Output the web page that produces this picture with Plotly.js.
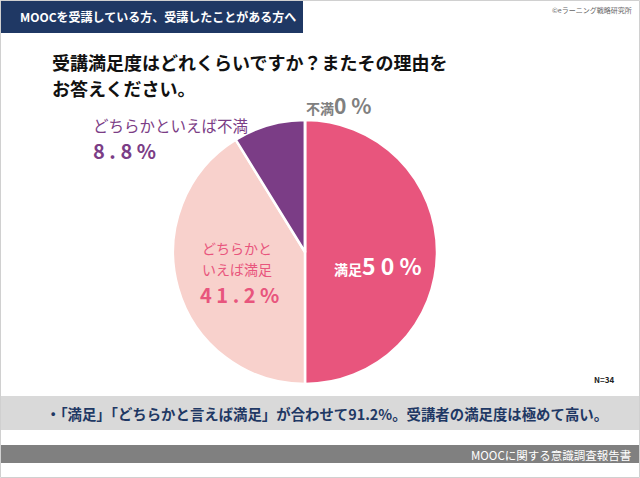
<!DOCTYPE html>
<html>
<head>
<meta charset="utf-8">
<script src="https://cdn.plot.ly/plotly-3.0.1.min.js"></script>
<style>
  html, body { margin: 0; padding: 0; background: #fff; }
  #chart { width: 640px; height: 478px; }
</style>
</head>
<body>
<div id="chart"></div>
<script>
// data
const labels = ["満足", "どちらかといえば満足", "どちらかといえば不満", "不満"];
const values = [50, 41.2, 8.8, 0];
const sliceColors = ["#E8557D", "#F8D1CC", "#7B3D86", "#808080"];
const pctText = ["5 0 %", "4 1 . 2 %", "8 . 8 %", "0 %"];

const FONT = "'Noto Sans CJK JP', 'Noto Sans', sans-serif";
const W = 640, H = 478;
const px = (x) => x / W;
const py = (y) => 1 - y / H;

const pie = {
  type: "pie",
  labels: labels,
  values: values,
  sort: false,
  direction: "clockwise",
  rotation: 0,
  textinfo: "none",
  hoverinfo: "label+percent",
  marker: { colors: sliceColors, line: { color: "#fff", width: 2.5 } },
  domain: { x: [px(173), px(437)], y: [py(384), py(120)] },
  showlegend: false,
};

const ann = (x, y, text, size, color, xanchor) => ({
  xref: "paper", yref: "paper", x: px(x), y: py(y),
  text: text, showarrow: false, xanchor: xanchor || "left", yanchor: "middle",
  align: xanchor || "left",
  font: { family: FONT, size: size, color: color },
});

const annotations = [
  ann(18, 17, "<b>MOOCを受講している方、受講したことがある方へ</b>", 12, "#fff"),
  ann(634, 10, "©eラーニング戦略研究所", 7, "#666", "right"),
  ann(50, 62, "<b>受講満足度はどれくらいですか？またその理由を</b>", 18, "#111"),
  ann(50, 88, "<b>お答えください。</b>", 18, "#111"),
  // slice labels
  ann(332, 265, "<b>" + labels[0] + "</b><span style='font-size:23px'><b>" + pctText[0] + "</b></span>", 14, "#fff"),
  ann(237, 248, "どちらかと", 14, sliceColors[0], "center"),
  ann(237, 269, "いえば満足", 14, sliceColors[0], "center"),
  ann(239, 294, "<b>" + pctText[1] + "</b>", 20, sliceColors[0], "center"),
  ann(91, 125, labels[2], 15.5, sliceColors[2]),
  ann(91, 150, "<b>" + pctText[2] + "</b>", 20, sliceColors[2]),
  ann(304, 105, "<b>" + labels[3] + "</b><span style='font-size:21px'><b>" + pctText[3] + "</b></span>", 14, sliceColors[3]),
  ann(592, 379, "<b>N=34</b>", 8, "#222"),
  ann(44, 413, "<b>・「満足」「どちらかと言えば満足」が合わせて91.2%。受講者の満足度は極めて高い。</b>", 14.4, "#1F3864"),
  ann(633, 455, "MOOCに関する意識調査報告書", 11.5, "#fff", "right"),
];

const rect = (x0, y0, x1, y1, fill, line) => ({
  type: "rect", xref: "paper", yref: "paper", layer: "below",
  x0: px(x0), x1: px(x1), y0: py(y1), y1: py(y0),
  fillcolor: fill, line: line || { width: 0 },
});

const shapes = [
  rect(0.5, 0.5, 639.5, 477.5, "rgba(0,0,0,0)", { color: "#D0D0D0", width: 1 }),
  rect(1, 1, 303, 33, "#1F3864"),
  rect(1, 396, 639, 430, "#D9D9D9"),
  rect(1, 445, 639, 463, "#808080"),
];

const layout = {
  width: W,
  height: H,
  margin: { l: 0, r: 0, t: 0, b: 0 },
  paper_bgcolor: "#fff",
  plot_bgcolor: "#fff",
  font: { family: FONT },
  shapes: shapes,
  annotations: annotations,
};

Plotly.newPlot("chart", [pie], layout, { displayModeBar: false, staticPlot: true });
</script>
</body>
</html>
